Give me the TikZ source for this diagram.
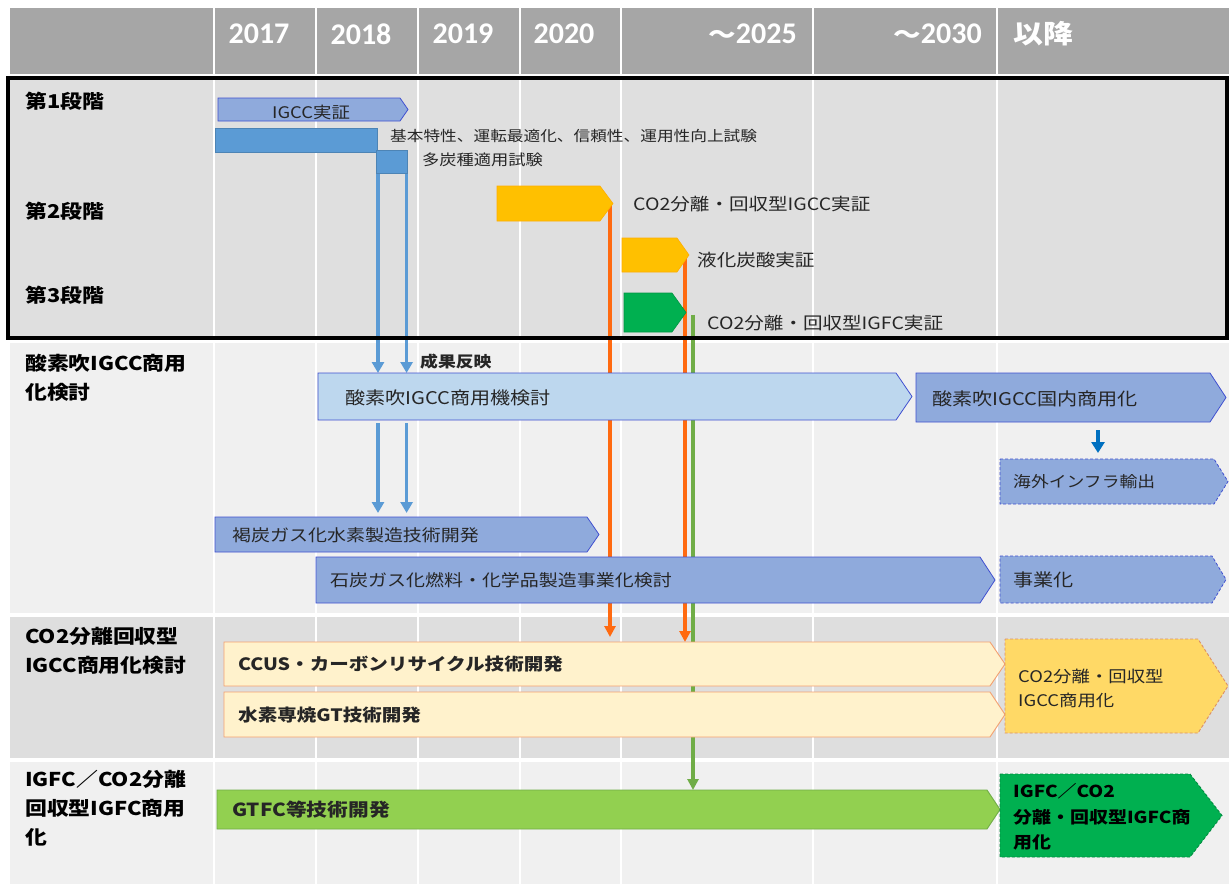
\documentclass[tikz,border=0pt]{standalone}
\usepackage{fontspec}
\setmainfont{Noto Sans CJK JP}[FakeStretch=1.15]
\newfontfamily\hdrfont{Carlito}
\usetikzlibrary{arrows.meta}
\definecolor{hdrgray}{HTML}{A6A6A6}
\definecolor{stagebg}{HTML}{DFDFDF}
\definecolor{lightbg}{HTML}{F0F0F0}
\definecolor{midbg}{HTML}{DEDEDE}
\definecolor{pblue}{HTML}{8FAADC}
\definecolor{bdrblue}{HTML}{4050D0}
\definecolor{ltblue}{HTML}{BDD7EE}
\definecolor{mblue}{HTML}{5B9BD5}
\definecolor{dkblue}{HTML}{0070C0}
\definecolor{gold}{HTML}{FFC000}
\definecolor{redorg}{HTML}{FF6A10}
\definecolor{grn}{HTML}{00B050}
\definecolor{lgrn}{HTML}{70AD47}
\definecolor{ygrn}{HTML}{92D050}
\definecolor{pale}{HTML}{FFF2CC}
\definecolor{paleb}{HTML}{F4A070}
\definecolor{yel}{HTML}{FFD966}
\definecolor{txt}{HTML}{262626}
\pgfdeclarelayer{bgl}
\pgfdeclarelayer{lnl}
\pgfsetlayers{bgl,lnl,main}
\newcommand\fs[1]{\fontsize{#1}{#1}\selectfont}
\newcommand\pent[7]{%
  \path[#2] (#3,#4) -- ({#5-#7},#4) -- (#5,{(#4+#6)/2}) -- ({#5-#7},#6) -- (#3,#6) -- cycle;
  \node[inner sep=0pt, outer sep=0pt, minimum width={(#5-#3)*1pt}, minimum height={(#6-#4)*1pt}] (#1) at ({(#3+#5)/2},{(#4+#6)/2}) {};
}
\begin{document}
\begin{tikzpicture}[x=1pt,y=-1pt,
  hdr/.style={inner sep=0, text=white},
  lbl/.style={inner sep=0, align=left, text=black, font=\bfseries\fontsize{19}{29}\selectfont},
  bt/.style={inner sep=0, anchor=west, text=txt},
  bluebox/.style={fill=pblue, draw=bdrblue, line width=0.8},
  bluedash/.style={fill=pblue, draw=bdrblue, line width=0.8, dash pattern=on 3 off 2},
  ltbox/.style={fill=ltblue, draw=bdrblue, line width=0.8},
  goldbox/.style={fill=gold, draw=gold!90!red, line width=0.6},
  grnbox/.style={fill=grn, draw=grn!85!black, line width=0.6},
  palebox/.style={fill=pale, draw=paleb, line width=0.9},
  yeldash/.style={fill=yel, draw=paleb!90!black, line width=0.9, dash pattern=on 3 off 2},
  gtfcbox/.style={fill=ygrn, draw=lgrn, line width=0.9},
  dgdash/.style={fill=grn, draw=grn!80!black, line width=0.9, dash pattern=on 3 off 2},
  barrow/.style={draw=mblue, line width=3.6, -{Triangle[width=12,length=11]}},
  oarrow/.style={draw=redorg, line width=3.6, -{Triangle[width=11,length=11]}},
  garrow/.style={draw=lgrn, line width=3.6, -{Triangle[width=11,length=11]}},
  darrow/.style={draw=dkblue, line width=3.6, -{Triangle[width=13,length=11]}}
]
\useasboundingbox (0,0) rectangle (1229,884);
\begin{pgfonlayer}{bgl}
\fill[white] (0,0) rectangle (1229,884);
\fill[hdrgray] (10,8) rectangle (1229,74);
\fill[stagebg] (10,78) rectangle (1229,338);
\fill[lightbg] (10,343) rectangle (1229,613);
\fill[midbg] (10,617) rectangle (1229,758);
\fill[lightbg] (10,762) rectangle (1229,884);
\foreach \x in {214,316,418,520,621,813,997} \draw[white, line width=2] (\x,8) -- (\x,884);
\end{pgfonlayer}

% header
\node[hdr, font=\hdrfont\bfseries\fs{30}] (h17) at (259,34) {2017};
\node[hdr, font=\hdrfont\bfseries\fs{30}] (h18) at (361,34) {2018};
\node[hdr, font=\hdrfont\bfseries\fs{30}] (h19) at (463,34) {2019};
\node[hdr, font=\hdrfont\bfseries\fs{30}] (h20) at (564,34) {2020};
\node[hdr, anchor=east, font=\bfseries\fs{24}] (h25) at (797,34) {～{\hdrfont\fs{30}2025}};
\node[hdr, anchor=east, font=\bfseries\fs{24}] (h30) at (982,34) {～{\hdrfont\fs{30}2030}};
\node[hdr, anchor=west, font=\bfseries\fs{26}] (hlt) at (1013,34) {以降};

% left labels
\node[lbl, anchor=west] (s1) at (25,101) {第1段階};
\node[lbl, anchor=west] (s2) at (25,211) {第2段階};
\node[lbl, anchor=west] (s3) at (25,295) {第3段階};
\node[lbl, anchor=north west] (l2) at (25,354) {酸素吹IGCC商用\\化検討};
\node[lbl, anchor=north west] (l3) at (25,627) {CO2分離回収型\\IGCC商用化検討};
\node[lbl, anchor=north west] (l4) at (25,770) {IGFC／CO2分離\\回収型IGFC商用\\化};

% stage 1
\pent{igcc}{bluebox}{218}{98}{408}{121}{8}
\node[bt, anchor=center, font=\fs{16}] (igcc-t) at (311,112) {IGCC実証};
\node[fill=mblue, draw=mblue!85!black, line width=0.6, inner sep=0, minimum width=162, minimum height=24, anchor=north west] (t1) at (215,128) {};
\node[fill=mblue, draw=mblue!85!black, line width=0.6, inner sep=0, minimum width=31, minimum height=23, anchor=north west] (t2) at (376,150) {};
\node[bt, font=\fs{14.5}] (t1-t) at (390,136) {基本特性、運転最適化、信頼性、運用性向上試験};
\node[bt, font=\fs{15}] (t2-t) at (422,160) {多炭種適用試験};

% stage 2, 3
\pent{o1}{goldbox}{497}{186}{613}{221}{13}
\node[bt, font=\fs{17}] (o1-t) at (633,204) {CO2分離・回収型IGCC実証};
\pent{lq}{goldbox}{622}{238}{689}{272}{12}
\node[bt, font=\fs{17}] (lq-t) at (697,260) {液化炭酸実証};
\pent{g1}{grnbox}{624}{293}{686}{332}{14}
\node[bt, font=\fs{17}] (g1-t) at (707,323) {CO2分離・回収型IGFC実証};

% row 2
\node[bt, font=\bfseries\fs{15.5}] (fb) at (420,362) {成果反映};
\pent{r2a}{ltbox}{318}{373}{912}{420}{16}
\node[bt, font=\fs{17.5}] (r2a-t) at (345,398) {酸素吹IGCC商用機検討};
\pent{r2b}{bluebox}{916}{373}{1226}{422}{16}
\node[bt, font=\fs{17.5}] (r2b-t) at (932,399) {酸素吹IGCC国内商用化};
\pent{r2c}{bluedash}{1000}{459}{1228}{504}{14}
\node[bt, font=\fs{15.5}] (r2c-t) at (1013,482) {海外インフラ輸出};
\pent{r2d}{bluebox}{215}{517}{599}{552}{12}
\node[bt, font=\fs{16.5}] (r2d-t) at (232,535) {褐炭ガス化水素製造技術開発};
\pent{r2e}{bluebox}{316}{557}{995}{603}{15}
\node[bt, font=\fs{16.5}] (r2e-t) at (330,580) {石炭ガス化燃料・化学品製造事業化検討};
\pent{r2f}{bluedash}{1000}{556}{1226}{603}{14}
\node[bt, font=\fs{17.5}] (r2f-t) at (1013,580) {事業化};

% row 3
\pent{r3a}{palebox}{224}{642}{1005}{686}{15}
\node[bt, font=\bfseries\fs{17}] (r3a-t) at (238,664) {CCUS・カーボンリサイクル技術開発};
\pent{r3b}{palebox}{224}{692}{1005}{737}{15}
\node[bt, font=\bfseries\fs{17}] (r3b-t) at (238,715) {水素専焼GT技術開発};
\pent{r3c}{yeldash}{1005}{639}{1228}{733}{30}
\node[bt, align=left, font=\fontsize{16}{24}\selectfont] (r3c-t) at (1018,688) {CO2分離・回収型\\IGCC商用化};

% row 4
\pent{r4a}{gtfcbox}{217}{790}{1000}{829}{13}
\node[bt, font=\bfseries\fs{18}] (r4a-t) at (232,810) {GTFC等技術開発};
\pent{r4b}{dgdash}{1000}{774}{1222}{857}{32}
\node[bt, align=left, text=black, font=\bfseries\fontsize{16.5}{25.5}\selectfont] (r4b-t) at (1013,817) {IGFC／CO2\\分離・回収型IGFC商\\用化};

% connectors
\coordinate (sb) at (1098,430);
\begin{pgfonlayer}{lnl}
\draw[barrow] ([xshift=2]t2.south west) -- ([xshift=2]t2.south west |- r2a.north);
\draw[barrow] ([xshift=-1]t2.south east) -- ([xshift=-1]t2.south east |- r2a.north);
\draw[barrow, shorten >=4] ([xshift=2,yshift=-3]t2.south west |- r2a.south) -- ([xshift=2]t2.south west |- r2d.north);
\draw[barrow, shorten >=4] ([xshift=-1,yshift=-3]t2.south east |- r2a.south) -- ([xshift=-1]t2.south east |- r2d.north);
\draw[oarrow, shorten >=5] ([xshift=-3]o1.east) -- ([xshift=-3]o1.east |- r3a.north);
\draw[oarrow] ([xshift=-4,yshift=3]lq.east) -- ([xshift=-4]lq.east |- r3a.north);
\draw[garrow] ([xshift=7,yshift=-2]g1.east) -- ([xshift=7]g1.east |- r4a.north);
\draw[darrow, shorten >=6] (sb) -- (sb |- r2c.north);
\end{pgfonlayer}

\draw[line width=4] (8,78) rectangle (1227,338);
\end{tikzpicture}
\end{document}
